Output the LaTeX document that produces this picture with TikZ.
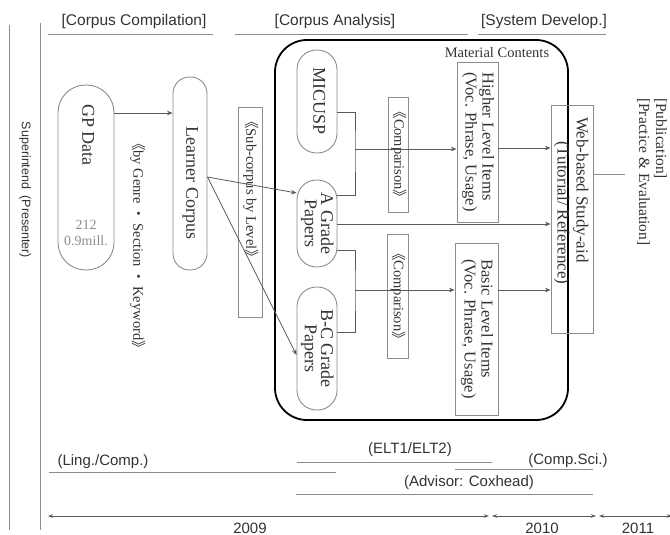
\documentclass[tikz,border=0pt]{standalone}
\usepackage{fontspec}
\setmainfont{Liberation Serif}
\setsansfont{Liberation Sans}
\newfontfamily\cjk{Noto Sans CJK JP}
\usetikzlibrary{arrows.meta,calc}
\definecolor{lg}{HTML}{8C8C8C}
\definecolor{dg}{HTML}{5A5A5A}
\definecolor{tx}{HTML}{333333}
\newcommand{\vtx}[1]{\rotatebox{-90}{\begin{tabular}{@{}l@{}}#1\end{tabular}}}
\newcommand{\vtc}[1]{\rotatebox{-90}{\begin{tabular}{@{}c@{}}#1\end{tabular}}}
\newcommand{\lbk}{{\cjk 《}}
\newcommand{\rbk}{{\cjk 》}}
\newcommand{\cdt}{{\cjk ・}}
\begin{document}
\begin{tikzpicture}[x=1pt,y=-1pt,
  box/.style={draw=lg, line width=0.9pt, inner sep=0pt, text=tx},
  pill/.style={box, rounded corners=#1},
  ln/.style={draw=dg, line width=0.8pt},
  gl/.style={draw=lg, line width=0.9pt},
  arr/.style={ln, -{Stealth[length=5.5pt,width=4.5pt]}},
  tl/.style={ln, {Stealth[length=5pt,width=3.5pt]}-{Stealth[length=5pt,width=3.5pt]}},
  hdr/.style={font=\sffamily\fontsize{15.5}{18}\selectfont, text=tx, inner sep=0pt},
  sm/.style={font=\sffamily\fontsize{15}{18}\selectfont, text=tx, inner sep=0pt},
  nt/.style={font=\fontsize{18}{15}\selectfont, text=tx},
  it/.style={font=\fontsize{16.5}{17}\selectfont, text=tx},
  ct/.style={font=\fontsize{14.5}{17}\selectfont, text=tx, inner sep=0pt},
]
\useasboundingbox (0,0) rectangle (670,535);

% left frame lines and side label
\coordinate (l1a) at (9,25); \coordinate (l1b) at (9,530);
\coordinate (l2a) at (40,23); \coordinate (l2b) at (40,530);
\draw[gl] (l1a) -- (l1b);
\draw[gl] (l2a) -- (l2b);
\node[font=\sffamily\fontsize{12.5}{15}\selectfont, text=tx, inner sep=0pt] (sup) at (25,190)
  {\rotatebox{-90}{Superintend\enspace(Presenter)}};

% headers
\node[hdr] (h1) at (134,21) {[Corpus Compilation]};
\node[hdr] (h2) at (335,21) {[Corpus Analysis]};
\node[hdr] (h3) at (544,21) {[System Develop.]};
\coordinate (u1a) at (48,34); \coordinate (u1b) at (213,34);
\coordinate (u2a) at (235,34); \coordinate (u2b) at (468,34);
\coordinate (u3a) at (478,34); \coordinate (u3b) at (606,34);
\draw[gl] (u1a) -- (u1b);
\draw[gl] (u2a) -- (u2b);
\draw[gl] (u3a) -- (u3b);

% corpus compilation
\node[pill=27.5pt, minimum width=56pt, minimum height=185pt] (gp) at (86,177.5) {};
\node[nt, inner sep=0pt] (gpt) at (86,135) {\vtx{GP Data}};
\node[font=\fontsize{14}{16}\selectfont, text=lg, align=center, inner sep=0pt] (gpn) at (86,233) {212\\0.9mill.};
\node[pill=16.5pt, minimum width=34pt, minimum height=193pt] (lc) at (190,173.5) {};
\node[nt, inner sep=0pt] (lct) at (190,183) {\vtx{Learner Corpus}};
\node[ct, anchor=north] (bg) at (137,136) {\vtx{\lbk by Genre\,\cdt\,Section\,\cdt\,Keyword\rbk}};
\node[box, minimum width=24pt, minimum height=210pt] (sub) at (250,212) {};
\node[ct, anchor=north] (subt) at (250,114) {\vtx{\lbk Sub-corpus by Level\rbk}};

% material contents frame
\node[draw=black, line width=1.8pt, rounded corners=32pt, minimum width=293pt, minimum height=380pt, inner sep=0pt] (mat) at (421.5,230) {};
\node[font=\fontsize{14.5}{17}\selectfont, text=tx, inner sep=0pt] (matt) at (497,53) {Material Contents};

\node[pill=19.5pt, minimum width=40pt, minimum height=103pt, nt] (mic) at (317,101.5) {\vtx{MICUSP}};
\node[pill=19.5pt, minimum width=40pt, minimum height=87pt, nt] (ag) at (317,223.5) {\vtc{A Grade\\Papers}};
\node[pill=19.5pt, minimum width=40pt, minimum height=123pt, nt] (bc) at (317,348.5) {\vtc{B-C Grade\\Papers}};

\node[box, minimum width=20pt, minimum height=115pt, ct] (cmp1) at (398,154.5) {\vtx{\lbk Comparison\rbk}};
\node[box, minimum width=21pt, minimum height=124pt, ct] (cmp2) at (397.5,296) {\vtx{\lbk Comparison\rbk}};

\node[box, minimum width=41pt, minimum height=160pt, it] (hli) at (477.5,142) {\vtx{Higher Level Items\\(Voc. Phrase, Usage)}};
\node[box, minimum width=43pt, minimum height=172pt, it] (bli) at (476.5,329) {\vtx{Basic Level Items\\(Voc. Phrase, Usage)}};

\node[box, minimum width=42pt, minimum height=228pt] (web) at (572,219) {};
\node[font=\fontsize{17}{19}\selectfont, text=tx, inner sep=0pt, anchor=north] (webt) at (571,117)
  {\vtx{Web-based Study-aid\\\hspace*{24pt}(Tutorial/ Reference)}};

\node[font=\fontsize{15.5}{17}\selectfont, text=tx, inner sep=0pt, anchor=north] (pubt) at (651,98)
  {\vtx{[Publication]\\{[Practice \& Evaluation]}}};

% connectors
\draw[arr] ([yshift=64.5pt]gp.east) coordinate (g1) -- (g1 -| lc.west);
\draw[arr] ([yshift=-3.5pt]lc.east) -- ([yshift=30.5pt]ag.west);
\draw[arr] ([yshift=-3.5pt]lc.east) -- ([yshift=-6.5pt]bc.west);

\coordinate (j1) at (355,149);
\coordinate (j2) at (355,290);
\draw[ln] ([yshift=-10.5pt]mic.east) -| (j1) |- ([yshift=28.5pt]ag.east);
\draw[arr] (j1) -- (j1 -| hli.west);
\draw[arr] ([yshift=-0.5pt]ag.east) coordinate (a1) -- (a1 -| web.west);
\draw[ln] ([yshift=-26.5pt]ag.east) -| (j2) |- ([yshift=16.5pt]bc.east);
\draw[arr] (j2) -- (j2 -| bli.west);
\draw[arr] ([yshift=-6pt]hli.east) coordinate (h1e) -- (h1e -| web.west);
\draw[arr] ([yshift=39pt]bli.east) coordinate (b1e) -- (b1e -| web.west);
\coordinate (pubend) at (625,174);
\draw[gl] (pubend -| web.east) -- (pubend);

% bottom roles
\node[sm] (ling) at (103,462) {(Ling./Comp.)};
\node[sm] (elt) at (410,450) {(ELT1/ELT2)};
\node[sm] (csci) at (568,461) {(Comp.Sci.)};
\node[sm] (adv) at (469,483) {(Advisor: Coxhead)};
\coordinate (r1a) at (49,472); \coordinate (r1b) at (336,472);
\coordinate (r2a) at (297,462); \coordinate (r2b) at (492,462);
\coordinate (r3a) at (455,469); \coordinate (r3b) at (593,469);
\coordinate (r4a) at (296,494); \coordinate (r4b) at (593,494);
\draw[gl] (r1a) -- (r1b);
\draw[gl] (r2a) -- (r2b);
\draw[gl] (r3a) -- (r3b);
\draw[gl] (r4a) -- (r4b);

% timeline
\coordinate (t1a) at (48,516); \coordinate (t1b) at (489,516);
\coordinate (t2a) at (492,516); \coordinate (t2b) at (596,516);
\coordinate (t3a) at (599,516); \coordinate (t3b) at (672,516);
\draw[tl] (t1a) -- (t1b);
\draw[tl] (t2a) -- (t2b);
\draw[tl] (t3a) -- (t3b);
\node[sm] (y1) at (250,528) {2009};
\node[sm] (y2) at (542,528) {2010};
\node[sm] (y3) at (638,528) {2011};
\end{tikzpicture}
\end{document}
